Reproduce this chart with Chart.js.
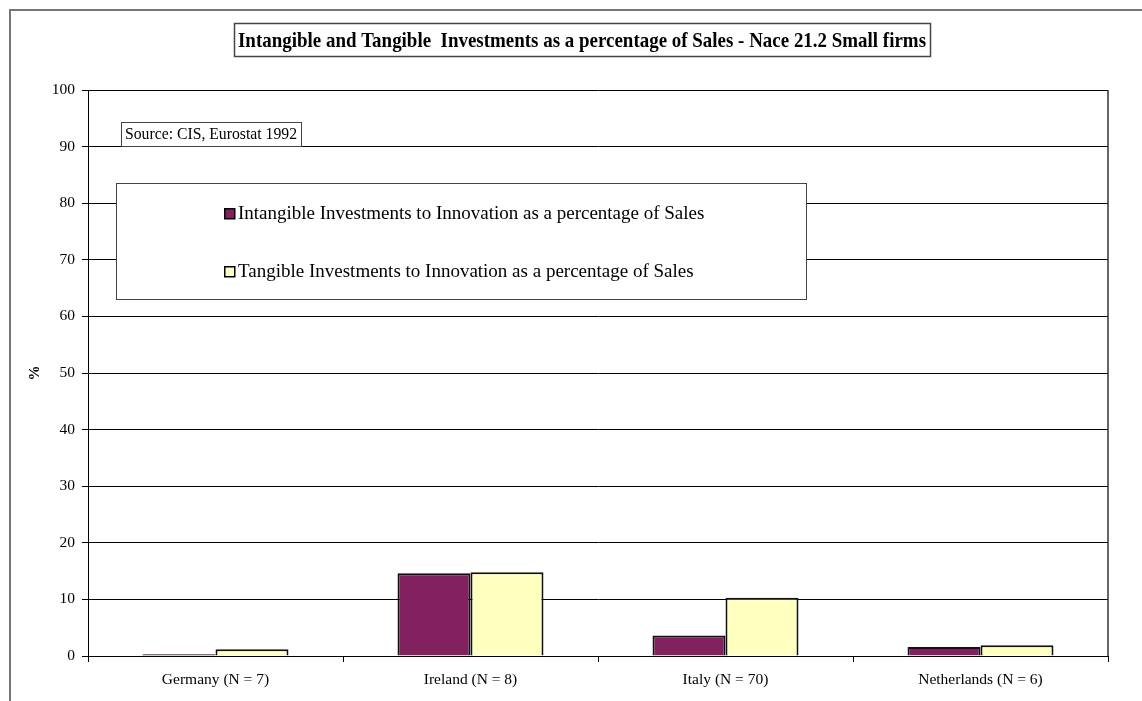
<!DOCTYPE html>
<html><head><meta charset="utf-8">
<script src="https://cdn.jsdelivr.net/npm/chart.js@4.4.0/dist/chart.umd.min.js"></script>
<style>html,body{margin:0;padding:0;background:#fff;overflow:hidden;} canvas{display:block;}</style>
</head><body>
<canvas id="c" width="1142" height="701"></canvas>
<script>
const categories = ['Germany (N = 7)', 'Ireland (N = 8)', 'Italy (N = 70)', 'Netherlands (N = 6)'];
const intangibleValues = [0.3, 14.6, 3.6, 1.6];
const tangibleValues = [1.2, 14.8, 10.3, 1.9];
const seriesNames = [
  'Intangible Investments to Innovation as a percentage of Sales',
  'Tangible Investments to Innovation as a percentage of Sales'
];
const yTickValues = [0, 10, 20, 30, 40, 50, 60, 70, 80, 90, 100];
const titleText = 'Intangible and Tangible  Investments as a percentage of Sales - Nace 21.2 Small firms';
const sourceText = 'Source: CIS, Eurostat 1992';
const yAxisTitle = '%';

const SERIF = '"Liberation Serif", "Times New Roman", serif';
const colors = ['#822060', '#FFFFC0'];

function fitText(ctx, text, x, y, font, width, align, sy) {
  ctx.save();
  ctx.font = font;
  const w = ctx.measureText(text).width;
  const s = Math.min(1.15, width / w);
  ctx.translate(x, y);
  ctx.scale(s, sy || 1);
  ctx.textAlign = align || 'left';
  ctx.textBaseline = 'alphabetic';
  ctx.fillStyle = '#000';
  ctx.fillText(text, 0, 0);
  ctx.restore();
}

const decorations = {
  id: 'decorations',
  beforeDraw(chart) {
    const ctx = chart.ctx;
    ctx.save();
    ctx.fillStyle = '#fff';
    ctx.fillRect(0, 0, chart.width, chart.height);
    ctx.strokeStyle = '#777';
    ctx.lineWidth = 2;
    ctx.beginPath();
    ctx.moveTo(10, chart.height + 2);
    ctx.lineTo(10, 10);
    ctx.lineTo(chart.width + 2, 10);
    ctx.stroke();
    ctx.restore();
  },
  afterDraw(chart) {
    const ctx = chart.ctx;
    const a = chart.chartArea;
    ctx.save();
    ctx.strokeStyle = '#333';
    ctx.lineWidth = 1.5;
    ctx.beginPath();
    ctx.moveTo(a.right, a.top);
    ctx.lineTo(a.right, a.bottom);
    ctx.stroke();

    // title box
    ctx.fillStyle = '#fff';
    ctx.fillRect(234, 23, 696, 33);
    ctx.strokeStyle = '#444';
    ctx.lineWidth = 1.5;
    ctx.strokeRect(234.5, 23.5, 696, 33);
    fitText(ctx, titleText, 582, 47, 'bold 19px ' + SERIF, 688, 'center', 1.05);

    // source box
    ctx.fillStyle = '#fff';
    ctx.fillRect(121, 122, 180, 24);
    ctx.strokeStyle = '#444';
    ctx.lineWidth = 1;
    ctx.strokeRect(121.5, 122.5, 180, 24);
    fitText(ctx, sourceText, 125, 139, '16px ' + SERIF, 172, 'left');

    // legend box
    ctx.fillStyle = '#fff';
    ctx.fillRect(116, 183, 690, 116);
    ctx.strokeStyle = '#444';
    ctx.lineWidth = 1;
    ctx.strokeRect(116.5, 183.5, 690, 116);
    const rows = [219, 277];
    chart.data.datasets.forEach((ds, i) => {
      const y = rows[i];
      ctx.fillStyle = ds.backgroundColor;
      ctx.fillRect(224, y - 11, 11, 11);
      ctx.strokeStyle = '#000';
      ctx.lineWidth = 1.5;
      ctx.strokeRect(224.75, y - 10.25, 10, 10);
      ctx.fillStyle = '#000';
      ctx.font = '19px ' + SERIF;
      ctx.textAlign = 'left';
      ctx.textBaseline = 'alphabetic';
      ctx.fillText(ds.label, 238, y);
    });
    ctx.restore();
  }
};

new Chart(document.getElementById('c'), {
  type: 'bar',
  data: {
    labels: categories,
    datasets: [
      { label: seriesNames[0], data: intangibleValues, backgroundColor: colors[0], borderColor: '#111', borderWidth: 2 },
      { label: seriesNames[1], data: tangibleValues, backgroundColor: colors[1], borderColor: '#111', borderWidth: 2 }
    ]
  },
  options: {
    responsive: false,
    animation: false,
    devicePixelRatio: 1,
    layout: { padding: { left: 0, top: 90, right: 34, bottom: 0 } },
    datasets: { bar: { categoryPercentage: 0.5725, barPercentage: 1.0 } },
    plugins: {
      legend: { display: false },
      title: { display: false },
      tooltip: { enabled: false }
    },
    scales: {
      x: {
        offset: true,
        grid: { offset: true, drawOnChartArea: false, drawTicks: true, tickLength: 6, color: '#000', lineWidth: 1 },
        border: { display: true, color: '#000', width: 1 },
        ticks: { color: '#000', font: { family: SERIF, size: 15.5 }, padding: 9, maxRotation: 0 },
        afterFit(scale) { scale.height = 45; }
      },
      y: {
        min: 0, max: 100,
        afterBuildTicks(scale) { scale.ticks = yTickValues.map(v => ({ value: v })); },
        grid: { color: '#000', lineWidth: 1, tickLength: 6, drawTicks: true },
        border: { display: true, color: '#000', width: 1 },
        ticks: { color: '#000', font: { family: SERIF, size: 15.5 }, padding: 7 },
        title: { display: true, text: yAxisTitle, color: '#000', font: { family: SERIF, size: 15, weight: 'bold' }, padding: { top: 26, bottom: 0 } },
        afterFit(scale) { scale.width = 88; }
      }
    }
  },
  plugins: [decorations]
});
</script>
</body></html>
